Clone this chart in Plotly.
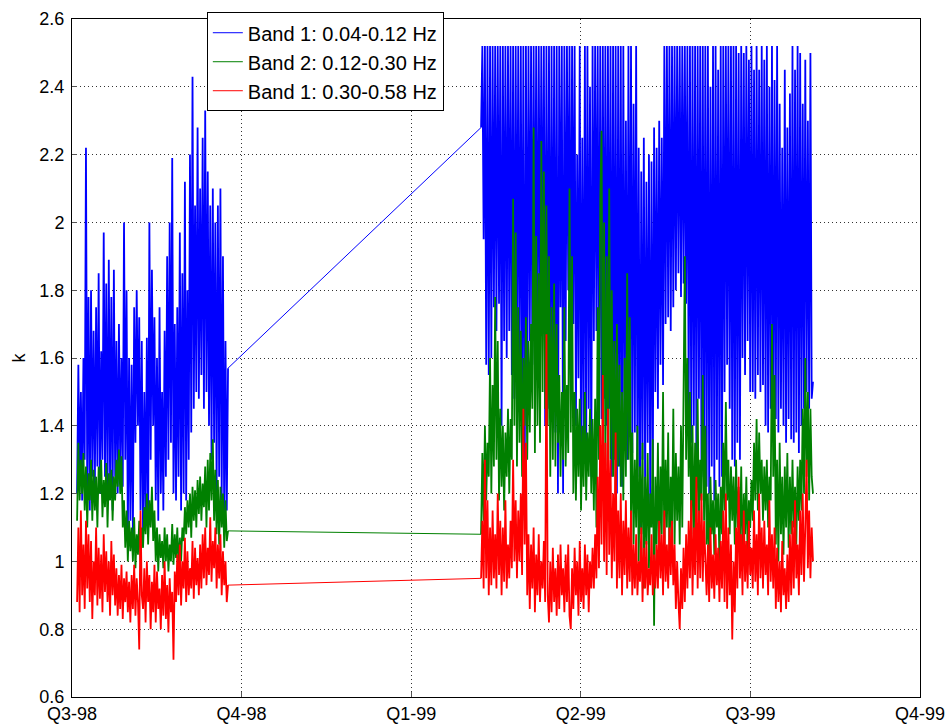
import numpy as np
import plotly.graph_objects as go

# Quarter axis (0 = Q3-98 ... 5 = Q4-99)
tick_labels = ["Q3-98", "Q4-98", "Q1-99", "Q2-99", "Q3-99", "Q4-99"]
tick_vals = [0, 1, 2, 3, 4, 5]

# Segment time spans (in quarters)
seg1_span = (0.03, 0.92)
seg2_span = (2.412, 4.369)

# Values, in hundredths of k
blue_seg1 = [120,158,125,150,118,160,130,222,120,178,115,180,125,168,122,175,128,185,120,162,
             130,197,125,182,118,189,122,178,115,186,125,165,120,170,128,160,122,200,130,180,
             107,160,112,158,108,175,135,180,140,172,115,165,107,150,112,166,108,200,130,186,
             140,172,118,160,112,175,120,150,115,168,125,190,130,200,135,219,120,170,118,175,
             125,197,115,185,120,212,118,180,130,220,138,243,145,205,150,228,148,210,155,225,
             145,233,150,215,140,205,130,210,135,200,120,205,125,210,118,190,110,165,115,157]
green_seg1 = [112,135,118,130,120,132,115,128,110,126,118,130,112,127,115,125,110,128,120,130,
              113,124,116,129,110,126,118,127,112,125,118,130,122,133,120,131,110,118,104,115,
              100,112,103,110,100,113,98,108,102,112,100,110,104,116,108,120,105,118,110,122,
              106,115,100,110,97,108,101,106,98,110,100,108,97,105,100,111,99,108,101,110,
              98,107,100,110,106,116,108,118,110,120,107,122,112,121,110,124,114,125,112,123,
              116,128,110,130,115,132,118,136,112,127,108,124,105,122,110,120,104,118,106,109]
red_seg1 = [88,110,85,115,90,105,86,112,92,108,88,106,83,100,90,110,87,104,89,102,
            85,108,91,103,88,100,84,106,90,102,87,98,84,96,86,99,83,95,88,97,
            85,94,82,96,86,99,84,95,88,74,115,90,86,98,82,100,88,96,80,94,
            85,99,82,97,86,92,80,96,84,100,83,93,79,95,85,91,71,97,88,102,
            90,105,87,100,92,107,88,103,90,98,92,106,89,104,93,101,90,105,92,108,
            95,110,93,104,96,113,94,106,98,110,92,105,95,108,90,103,93,100,88,93]

blue_seg2 = [228,252,195,252, 158,252,155,252,160, 252,175,252,168,252, 176,252,140,252,165,
             252,160,252,168,252, 155,252,148,252,162,252,150,252,145,252, 112,252,150,
             252,165,252,158,252,170,252,155, 252,172,252,170,252, 140,252,145,252,
             142,252,150,252,138,252,120, 252,175,252, 120,252, 165,252,180,252,155,252,170,252,
             140,220,154,252,128,225,135,252,130,252,145,240,125,252,
             165,252,168,252,150,252,142,252,148,252,140,252,145,
             252,125,252,130,252,120,252,128,252,122,252,
             135,230,130,252,140,252,132,235,138,252,
             125,222,110,215,130,225,120,212,135,220,115,218,123,
             228,150,222,145,230,158,225,152,
             252,170,252,172,252,168,252,175,
             252,180,252,185,252,178,252,182,252,176,
             252,145,252,135,252,140,252,130,252,148,252,
             125,252,128,252,122,252,
             120,240,128,252,118,252,130,245,122,252,125,
             252,150,252,158,252,145,252,
             130,252,128,252,135,250,130,252,
             160,250,155,252,165,248,150,252,
             150,245,148,252,155,245,150,252,152,248,
             140,252,138,240,145,252,135,242,142,252,
             138,235,145,222,140,245,135,228,142,238,136,
             252,135,245,138,252,132,250,140,
             235,145,248,150,230,145,250,148,153]
green_seg2 = [108,132,112,140,118,135, 125,160,120,152,128, 178,130,165,
              118,145,122,140,115,138,125,145,120,142, 130,207,140,197,
              128,175,135,168,125,160,140,172,130,165,138,170, 145,228,
              132,196,140,185,135, 224,150,215,145,205,140,
              190,125,175,130,182,128,170,135, 155,125,150,130,175,128,152,132,
              210,138,190, 120,150,118,145,125,148,115,140,122,150,118,138,125,145,120,142,
              115,148,110, 175,130,207,227,135,200, 128,190,135,210,130,180,125,
              165,120,170,128,158,122,150,118,160,125, 185,130,172,
              112,138,105,130,110,140,100,128,108,135,92,125,105,132,98,120,110,136, 81,
              125,105,135,100,128,108,150,102,130,110,138,100,125,108,145,105,132,112,128,
              105,140,110,150,190, 130,160,125,
              150,108,140,105,135,112,148,110,130,118,155,112,140,
              105,120,95,125,108,118,102,124,110,120,100,122,108,
              135,115,147,118,130, 108,128,112,125,105,130,110,122,106,128,
              100,120,108,125,102,118,110,124, 112,135,118,142,115,138,120,130,
              112,128,115,130,110,125,118, 170,125,155,
              105,130,100,135,108,125,102,128,110,132,104,
              125,108,130,110,122,105,128,112,130,115, 145,120,160,125,150, 118,145,125,120]
red_seg2 = [95,112,92,130,95,118,
            90,110,93,115,95,108,92,120,96,112,90,110,94,118,92,105,95,112,
            98,130,100, 118,95,115,100,120,96, 145,105,135,
            90,108,86,105,92,110,85,102,90,108,88,100,92,106,88, 167,
            90,82,100,85,104,88,98,84,102,86,105,90,98,85,
            102,88,105,84,80,98,86,104,90,100,84,106,88,98,86,105,90,102,85,100,92,104,
            92,108,95, 125,98,140,105,155,100,135,96,145,102,130,95,120,100,138,
            92,115,95,120,90,112,96,118,92,110,94,115,90,
            105,92,108,90,100,94,110,88,104,92,106,90,98,93,108,90,102,92,105,
            92,112,95,108,90,115,94,105,92,110,96,112,93,
            105,86,100,88,80,98,86,104,88,108,
            92,112,95,118,90,110,96,125,92,115,95,120,94,112,98,
            90,105,88,110,92,102,89,108,93,104,88,106,92,
            115,88,120,86,110,90,105, 77,100,85,
            110,92,125,95,108,90,115,94,106,92,112,96,104,
            92,115,94,108,90,120,95,110,92,112,96,105,90,118,94,108,92,110,
            86,104,88,100,85,106,90,98,86,102,88,108,90,
            112,92,118,95,105,90,115,96,120,94,110,130,98,115,95,110,100]

series = [
    ("Band 1: 0.04-0.12 Hz", blue_seg1, blue_seg2, "#0000ff"),
    ("Band 2: 0.12-0.30 Hz", green_seg1, green_seg2, "#008000"),
    ("Band 1: 0.30-0.58 Hz", red_seg1, red_seg2, "#ff0000"),
]

fig = go.Figure()
for name, s1, s2, color in series:
    x1 = np.linspace(seg1_span[0], seg1_span[1], len(s1))
    x2 = np.linspace(seg2_span[0], seg2_span[1], len(s2))
    y1 = np.array(s1) / 100.0
    y2 = np.array(s2) / 100.0
    # connector between the two recording periods (legend entry, thin)
    fig.add_trace(go.Scatter(x=[x1[-1], x2[0]], y=[y1[-1], y2[0]], mode="lines",
                             name=name, legendgroup=name,
                             line=dict(color=color, width=1)))
    for xs, ys in ((x1, y1), (x2, y2)):
        fig.add_trace(go.Scatter(x=xs, y=ys, mode="lines", name=name,
                                 legendgroup=name, showlegend=False,
                                 line=dict(color=color, width=1.8)))

font = dict(family="Liberation Sans, Arial, Helvetica, sans-serif", size=18, color="black")
axis_common = dict(showline=True, mirror=True, linecolor="black", linewidth=1,
                   ticks="inside", ticklen=5, tickcolor="#555555",
                   showgrid=True, gridcolor="#333333", gridwidth=1, griddash="1px,3px",
                   zeroline=False, tickfont=font, automargin=False)

fig.update_layout(
    width=950, height=725,
    margin=dict(l=72, r=30, t=17, b=28),
    paper_bgcolor="white", plot_bgcolor="white",
    font=font,
    showlegend=True,
    legend=dict(x=0.159, y=1.010, xanchor="left", yanchor="top",
                bgcolor="white", bordercolor="black", borderwidth=1,
                font=dict(family=font["family"], size=20, color="black"),
                tracegroupgap=0, itemwidth=30),
    xaxis=dict(range=[0, 5], tickvals=tick_vals, ticktext=tick_labels, **axis_common),
    yaxis=dict(range=[0.6, 2.6], dtick=0.2, tick0=0.6, ticklabelstandoff=3,
               title=dict(text="k", font=font, standoff=9), **axis_common),
)

fig.write_html("out.html")
